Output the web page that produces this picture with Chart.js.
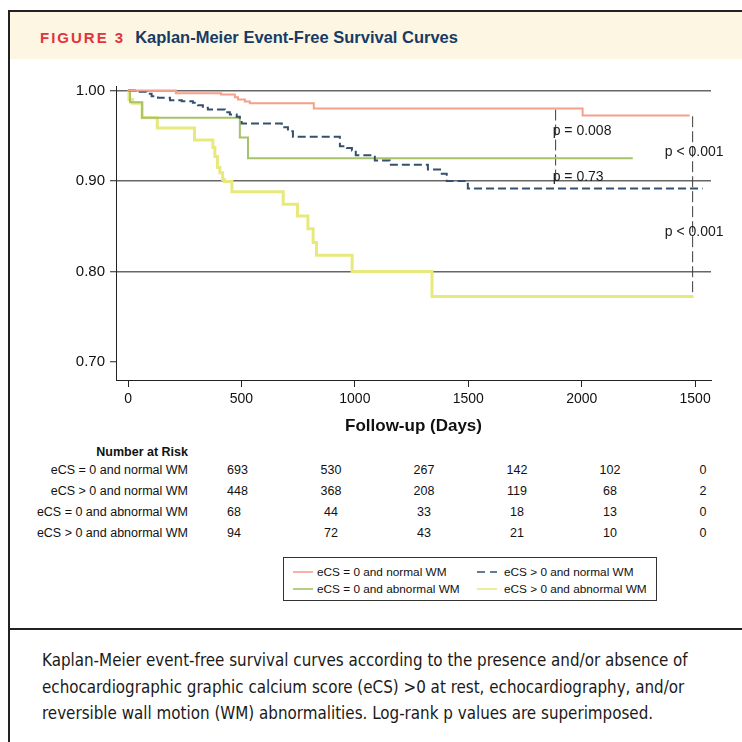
<!DOCTYPE html>
<html>
<head>
<meta charset="utf-8">
<title>Kaplan-Meier Event-Free Survival Curves</title>
<script src="https://cdn.jsdelivr.net/npm/chart.js@4.4.1/dist/chart.umd.min.js"></script>
<style>
  html, body { margin: 0; padding: 0; background: #fff; }
  body { position: relative; width: 742px; height: 742px; overflow: hidden;
         font-family: 'Liberation Sans', Arial, Helvetica, sans-serif; color: #1a1a1a; }
  .frame { position: absolute; left: 8px; top: 10px; width: 800px; height: 800px;
           border-left: 2px solid #222; border-top: 2px solid #222; }
  .band { position: absolute; left: 10px; top: 12px; width: 740px; height: 47px; background: #fdf6e3; }
  .title { position: absolute; left: 40px; top: 26px; line-height: 22px; white-space: nowrap; font-weight: bold; }
  .title .fig { color: #e2343c; font-size: 15px; letter-spacing: 2px; margin-right: 10px; }
  .title .txt { color: #173b64; font-size: 16.5px; }
  .plot { position: absolute; left: 0; top: 60px; width: 742px; height: 385px; }
  .abs { position: absolute; white-space: nowrap; line-height: 14px; }
  .risk { font-size: 12.5px; color: #111; }
  .legend { position: absolute; left: 283px; top: 557px; width: 372px; height: 42px; border: 1px solid #333; }
  .legend .abs { font-size: 11.8px; color: #111; }
  .sep { position: absolute; left: 8px; top: 628px; width: 760px; height: 2px; background: #222; }
  .cap { font-family: 'DejaVu Sans Condensed', 'Liberation Sans Narrow', sans-serif; color: #1a1a1a; }
</style>
</head>
<body>
<div class="frame"></div>
<div class="band"></div>
<div class="title"><span class="fig">FIGURE 3</span><span class="txt">Kaplan-Meier Event-Free Survival Curves</span></div>
<div class="plot"><canvas id="kmChart"></canvas></div>
<div id="risk"></div>
<div class="legend" id="legend"></div>
<div class="sep"></div>
<div id="caption"></div>

<script>
// axis ticks
const dayTicks = [0, 500, 1000, 1500, 2000, 2500];
const dayTickLabels = ['0', '500', '1000', '1500', '2000', '1500'];  // last label printed as in the figure
const survTicks = [0.70, 0.80, 0.90, 1.00];

const groups = ['eCS = 0 and normal WM', 'eCS > 0 and normal WM', 'eCS = 0 and abnormal WM', 'eCS > 0 and abnormal WM'];

// eCS = 0 and normal WM
const days0N = [0, 211, 410, 471, 485, 515, 537, 819, 2004, 2476];
const surv0N = [1.000, 0.997, 0.9956, 0.9926, 0.990, 0.988, 0.986, 0.980, 0.9724, 0.9724];

// eCS > 0 and normal WM
const daysPN = [0, 38, 82, 104, 132, 185, 237, 286, 308, 330, 352, 427, 449, 479, 493, 501,
                678, 705, 727, 934, 965, 987, 1004, 1088, 1154, 1322, 1383, 1405, 1498, 2533];
const survPN = [1.000, 0.9986, 0.9964, 0.9937, 0.9919, 0.9893, 0.9882, 0.9864, 0.9838, 0.9809, 0.979, 0.976, 0.9735, 0.971, 0.968, 0.9635,
                0.9594, 0.955, 0.9488, 0.9385, 0.9365, 0.9337, 0.9285, 0.9227, 0.918, 0.9127, 0.908, 0.900, 0.8917, 0.8917];

// eCS = 0 and abnormal WM
const days0A = [0, 9, 62, 493, 529, 2225];
const surv0A = [1.000, 0.987, 0.970, 0.948, 0.925, 0.925];

// eCS > 0 and abnormal WM
const daysPA = [0, 4, 20, 62, 129, 293, 374, 383, 394, 405, 417, 425, 458, 684, 747, 793, 816, 831, 988, 1340, 2493];
const survPA = [1.000, 0.990, 0.986, 0.970, 0.9586, 0.9453, 0.937, 0.927, 0.915, 0.909, 0.9017, 0.8994, 0.888,
                0.8744, 0.8613, 0.8472, 0.832, 0.818, 0.800, 0.7724, 0.7724];

// number at risk
const risk0N = [693, 530, 267, 142, 102, 0];
const riskPN = [448, 368, 208, 119, 68, 2];
const risk0A = [68, 44, 33, 18, 13, 0];
const riskPA = [94, 72, 43, 21, 10, 0];

// log-rank comparisons
const pLabels = ['p = 0.008', 'p = 0.73', 'p < 0.001', 'p < 0.001'];
const pLineDays = [1885, 2489];
const pLineTop = [0.979, 0.9716];
const pLineBottom = [0.8972, 0.7724];

const seriesStyle = [
  { color: '#f4a08a', width: 2, dash: [] },
  { color: '#34506f', width: 2, dash: [8, 4] },
  { color: '#a6c26a', width: 2, dash: [] },
  { color: '#e8e97c', width: 3, dash: [] }
];

const toPoints = (xs, ys) => xs.map((x, i) => ({ x: x, y: ys[i] }));
const curves = [toPoints(days0N, surv0N), toPoints(daysPN, survPN), toPoints(days0A, surv0A), toPoints(daysPA, survPA)];

const datasets = curves.map((pts, i) => ({
  label: groups[i],
  data: pts,
  showLine: true,
  stepped: 'before',
  borderColor: seriesStyle[i].color,
  borderWidth: seriesStyle[i].width,
  borderDash: seriesStyle[i].dash,
  pointRadius: 0,
  fill: false
}));

pLineDays.forEach((d, i) => {
  datasets.push({
    label: 'p-line',
    data: [{ x: d, y: pLineTop[i] }, { x: d, y: pLineBottom[i] }],
    showLine: true,
    borderColor: '#3c3c3c',
    borderWidth: 1,
    borderDash: [11, 4],
    pointRadius: 0
  });
});

// p value text, anchored in data units (left edge, middle)
const pLabelPlugin = {
  id: 'pLabels',
  afterDatasetsDraw(chart) {
    const xs = chart.scales.x, ys = chart.scales.y, c = chart.ctx;
    const spots = [[1872, 0.9547], [1872, 0.9044], [2366, 0.9315], [2366, 0.843]];
    c.save();
    c.font = "14px 'Liberation Sans', Arial, sans-serif";
    c.fillStyle = '#1a1a1a';
    c.textAlign = 'left';
    c.textBaseline = 'middle';
    pLabels.forEach((t, i) => {
      c.fillText(t, xs.getPixelForValue(spots[i][0]), ys.getPixelForValue(spots[i][1]));
    });
    c.restore();
  }
};

Chart.defaults.font.family = "'Liberation Sans', Arial, sans-serif";
Chart.defaults.color = '#111';

const ctx = document.getElementById('kmChart').getContext('2d');
const chart = new Chart(ctx, {
  type: 'scatter',
  data: { datasets: datasets },
  options: {
    responsive: true,
    maintainAspectRatio: false,
    animation: false,
    layout: { padding: { left: 0, right: 31, top: 26, bottom: 0 } },
    plugins: { legend: { display: false }, tooltip: { enabled: false } },
    scales: {
      x: {
        type: 'linear', min: -53, max: 2570,
        afterBuildTicks: s => { s.ticks = dayTicks.map(v => ({ value: v })); },
        afterFit: s => { s.height = 65; },
        ticks: { callback: (v, i) => dayTickLabels[i], font: { size: 14 }, color: '#111', padding: 4, maxRotation: 0, autoSkip: false },
        grid: { drawOnChartArea: false, tickLength: 7, tickColor: '#222', tickWidth: 1 },
        border: { color: '#222', width: 1 },
        title: { display: true, text: 'Follow-up (Days)', font: { size: 17, weight: 'bold' }, color: '#111', padding: { top: 0, bottom: 8 } }
      },
      y: {
        min: 0.68, max: 1.005,
        afterBuildTicks: s => { s.ticks = survTicks.map(v => ({ value: v })); },
        afterFit: s => { s.width = 116; },
        ticks: { callback: v => v.toFixed(2), font: { size: 15 }, color: '#111', padding: 5 },
        grid: {
          color: c => (c.tick && c.tick.value < 0.75) ? 'rgba(0,0,0,0)' : '#676767',
          lineWidth: 1.5, tickLength: 6, tickColor: '#222', tickWidth: 1
        },
        border: { color: '#222', width: 1 }
      }
    }
  },
  plugins: [pLabelPlugin]
});

// number at risk table
const riskRows = [risk0N, riskPN, risk0A, riskPA];
const colX = [227, 331, 424, 517, 610, 703];
const risk = document.getElementById('risk');
function addText(parent, txt, left, top, cls, extra) {
  const d = document.createElement('div');
  d.className = 'abs ' + (cls || '');
  d.textContent = txt;
  d.style.left = left + 'px';
  d.style.top = top + 'px';
  if (extra) Object.assign(d.style, extra);
  parent.appendChild(d);
  return d;
}
addText(risk, 'Number at Risk', 0, 445, 'risk', { width: '188px', textAlign: 'right', fontWeight: 'bold' });
riskRows.forEach((row, r) => {
  const top = 463 + 21 * r;
  addText(risk, groups[r], 0, top, 'risk', { width: '188px', textAlign: 'right' });
  row.forEach((n, c) => {
    const el = addText(risk, String(n), colX[c], top, 'risk');
    if (c > 0) el.style.transform = 'translateX(-50%)';
  });
});

// legend built from the chart datasets
const legend = document.getElementById('legend');
chart.data.datasets.slice(0, 4).forEach((ds, i) => {
  const col = i % 2, row = Math.floor(i / 2);
  const lx = col === 0 ? 9 : 193, tx = col === 0 ? 33 : 220, cy = row === 0 ? 14 : 31;
  const svg = document.createElementNS('http://www.w3.org/2000/svg', 'svg');
  svg.setAttribute('width', '20'); svg.setAttribute('height', '4');
  svg.style.position = 'absolute'; svg.style.left = lx + 'px'; svg.style.top = (cy - 2) + 'px';
  const ln = document.createElementNS('http://www.w3.org/2000/svg', 'line');
  ln.setAttribute('x1', '0'); ln.setAttribute('y1', '2'); ln.setAttribute('x2', '20'); ln.setAttribute('y2', '2');
  ln.setAttribute('stroke', ds.borderColor);
  ln.setAttribute('stroke-width', '1.6');
  if (ds.borderDash.length) ln.setAttribute('stroke-dasharray', '8 5');
  svg.appendChild(ln);
  legend.appendChild(svg);
  addText(legend, ds.label, tx, cy - 7);
});

// caption
const captionLines = [
  'Kaplan-Meier event-free survival curves according to the presence and/or absence of',
  'echocardiographic graphic calcium score (eCS) >0 at rest, echocardiography, and/or',
  'reversible wall motion (WM) abnormalities. Log-rank p values are superimposed.'
];
const cap = document.getElementById('caption');
const capEls = captionLines.map((t, i) => addText(cap, t, 42, 647 + 26.5 * i, 'cap', { fontSize: '16px', lineHeight: '26px' }));
const natural = capEls[0].getBoundingClientRect().width;
const fs = 16 * 646 / natural;
capEls.forEach(el => { el.style.fontSize = fs.toFixed(2) + 'px'; });
</script>
</body>
</html>
